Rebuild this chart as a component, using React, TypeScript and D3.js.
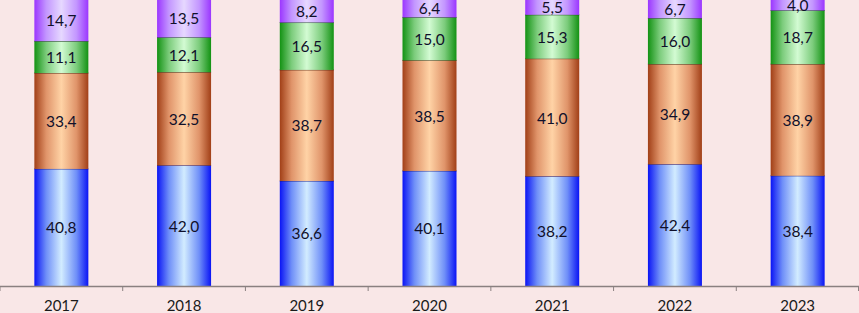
import React from "react";
import * as d3 from "d3";

const years = ["2017", "2018", "2019", "2020", "2021", "2022", "2023"];
const blueVals = [40.8, 42.0, 36.6, 40.1, 38.2, 42.4, 38.4];
const orangeVals = [33.4, 32.5, 38.7, 38.5, 41.0, 34.9, 38.9];
const greenVals = [11.1, 12.1, 16.5, 15.0, 15.3, 16.0, 18.7];
const purpleVals = [14.7, 13.5, 8.2, 6.4, 5.5, 6.7, 4.0];

const seriesKeys = ["blue", "orange", "green", "purple"];
const seriesData: Record<string, number[]> = {
  blue: blueVals,
  orange: orangeVals,
  green: greenVals,
  purple: purpleVals,
};
const gradients: Record<string, { edge: string; mid: string; light: string; stroke: string }> = {
  blue: { edge: "#0a14f5", mid: "#6f8ff8", light: "#d2ecff", stroke: "#1a1a80" },
  orange: { edge: "#a13f17", mid: "#e0946a", light: "#ffd3a6", stroke: "#5a2a14" },
  green: { edge: "#139213", mid: "#7ccc7c", light: "#d3fbd3", stroke: "#1a4a1a" },
  purple: { edge: "#9b36ff", mid: "#c396ff", light: "#e6d8ff", stroke: "#4a2a80" },
};

const W = 859;
const H = 313;

export default function App() {
  const x = d3.scaleBand<string>().domain(years).range([0, W]).paddingInner(0.56).paddingOuter(0.28);
  const y = d3.scaleLinear().domain([0, 100]).range([286, -1]);
  const table = years.map((yr, i) => {
    const row: Record<string, number | string> = { year: yr };
    seriesKeys.forEach((k) => (row[k] = seriesData[k][i]));
    return row;
  });
  const stack = d3.stack<Record<string, number | string>>().keys(seriesKeys).value((d, k) => d[k] as number);
  const stacked = stack(table);
  const step = W / years.length;
  const tickXs = d3.range(years.length + 1).map((i) => Math.min(i * step, W - 0.5));

  return (
    <svg
      width={W}
      height={H}
      style={{ position: "fixed", left: 0, top: 0, background: "#f9e7e7" }}
      fontFamily="Lato, 'Open Sans', sans-serif"
    >
      <defs>
        {seriesKeys.map((k) => (
          <linearGradient key={k} id={`g-${k}`} x1="0" x2="1" y1="0" y2="0">
            <stop offset="0" stopColor={gradients[k].edge} />
            <stop offset="0.22" stopColor={gradients[k].mid} />
            <stop offset="0.5" stopColor={gradients[k].light} />
            <stop offset="0.78" stopColor={gradients[k].mid} />
            <stop offset="1" stopColor={gradients[k].edge} />
          </linearGradient>
        ))}
      </defs>
      <rect x={0} y={0} width={W} height={H} fill="#f9e7e7" />
      {stacked.map((s) => (
        <g key={s.key}>
          {s.map((d, i) => {
            const x0 = x(years[i])!;
            const y0 = y(d[1]);
            const y1 = y(d[0]);
            return (
              <g key={i}>
                <rect x={x0} y={y0} width={x.bandwidth()} height={y1 - y0} fill={`url(#g-${s.key})`} />
                <line x1={x0} x2={x0 + x.bandwidth()} y1={y0} y2={y0} stroke={gradients[s.key].stroke} strokeWidth={1} />
                <text
                  x={x0 + x.bandwidth() / 2}
                  y={(y0 + y1) / 2}
                  textAnchor="middle"
                  dominantBaseline="central"
                  fontSize={15.5}
                  fill="#10102a"
                >
                  {(d[1] - d[0]).toFixed(1).replace(".", ",")}
                </text>
              </g>
            );
          })}
        </g>
      ))}
      <line x1={0} x2={W} y1={286.5} y2={286.5} stroke="#8a8080" strokeWidth={1.3} />
      {tickXs.map((tx, i) => (
        <line key={i} x1={tx} x2={tx} y1={286} y2={291} stroke="#8a8080" strokeWidth={1} />
      ))}
      {years.map((yr) => (
        <text key={yr} x={x(yr)! + x.bandwidth() / 2} y={305} textAnchor="middle" dominantBaseline="central" fontSize={15} fill="#1a1a1a">
          {yr}
        </text>
      ))}
    </svg>
  );
}
